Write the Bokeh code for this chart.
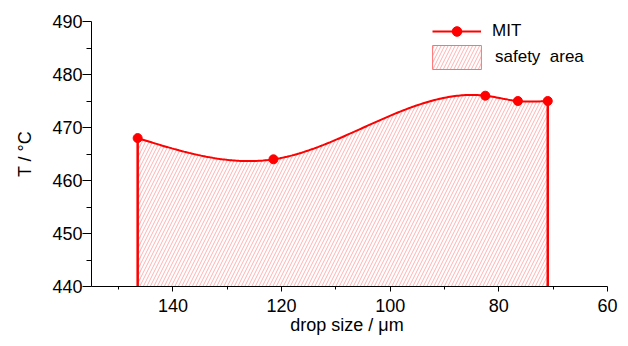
import numpy as np
from bokeh.plotting import figure
from bokeh.models import Range1d, FixedTicker, Legend, LegendItem
from bokeh.embed import file_html
from bokeh.resources import INLINE

# ---- data ----
drop_size = [146.5, 121.5, 82.5, 76.5, 71.0]      # µm
mit = [468, 464, 476, 475, 475]                    # °C
x_ticks = [140, 120, 100, 80, 60]
x_minor = [150, 130, 110, 90, 70]
y_ticks = [440, 450, 460, 470, 480, 490]
y_minor = [445, 455, 465, 475, 485]
x_lim = (155, 60)
y_lim = (440, 490)
series_label = "MIT"
area_label = "safety  area"
x_title = "drop  size / μm"
y_title = "T / °C"

RED = "#ff0000"
FONT = "Liberation Sans"


def natural_spline(xs, ys, n=240):
    """Smooth curve through the measured points (drawing aid, like Origin's spline line)."""
    order = np.argsort(xs)
    x = np.asarray(xs, float)[order]
    y = np.asarray(ys, float)[order]
    m = len(x)
    h = np.diff(x)
    A = np.zeros((m, m))
    b = np.zeros(m)
    A[0, 0] = A[-1, -1] = 1.0
    for i in range(1, m - 1):
        A[i, i - 1] = h[i - 1]
        A[i, i] = 2 * (h[i - 1] + h[i])
        A[i, i + 1] = h[i]
        b[i] = 3 * ((y[i + 1] - y[i]) / h[i] - (y[i] - y[i - 1]) / h[i - 1])
    c = np.linalg.solve(A, b)
    bb = (y[1:] - y[:-1]) / h - h * (2 * c[:-1] + c[1:]) / 3
    d = (c[1:] - c[:-1]) / (3 * h)
    xx = np.linspace(x[0], x[-1], n)
    idx = np.clip(np.searchsorted(x, xx, side="right") - 1, 0, m - 2)
    t = xx - x[idx]
    yy = y[idx] + bb[idx] * t + c[idx] * t ** 2 + d[idx] * t ** 3
    return xx, yy


cx, cy = natural_spline(drop_size, mit)

p = figure(width=620, height=338, output_backend="svg", toolbar_location=None,
           x_range=Range1d(*x_lim), y_range=Range1d(*y_lim),
           min_border_left=91, min_border_right=13, min_border_top=21,
           min_border_bottom=52)
p.outline_line_color = None
p.xgrid.visible = False
p.ygrid.visible = False
p.background_fill_color = "white"
p.border_fill_color = "white"

# hatched safety area under the curve
area_x = np.concatenate([[cx[0]], cx, [cx[-1]]])
area_y = np.concatenate([[y_lim[0]], cy, [y_lim[0]]])
area = p.patch(area_x, area_y, fill_alpha=0, line_color="#ff7070", line_width=1,
               hatch_pattern="/", hatch_color=RED, hatch_alpha=0.3,
               hatch_weight=1, hatch_scale=7)

# vertical borders of the area
p.segment(x0=[drop_size[0], drop_size[-1]], y0=[mit[0], mit[-1]],
          x1=[drop_size[0], drop_size[-1]], y1=[y_lim[0], y_lim[0]],
          line_color=RED, line_width=2.5)

line_r = p.line(cx, cy, line_color=RED, line_width=2)
scat_r = p.scatter(drop_size, mit, marker="circle", size=9,
                   fill_color=RED, line_color=RED)

# axes
for ax in (p.xaxis[0], p.yaxis[0]):
    ax.axis_line_color = "black"
    ax.major_tick_line_color = "black"
    ax.minor_tick_line_color = "black"
    ax.major_tick_in = 0
    ax.minor_tick_in = 0
    ax.major_label_text_font = FONT
    ax.major_label_text_font_size = "18px"
    ax.major_label_text_color = "black"
    ax.axis_label_text_font = FONT
    ax.axis_label_text_font_size = "18px"
    ax.axis_label_text_font_style = "normal"
    ax.axis_label_text_color = "black"

p.xaxis.ticker = FixedTicker(ticks=x_ticks, minor_ticks=x_minor)
p.yaxis.ticker = FixedTicker(ticks=y_ticks, minor_ticks=y_minor)
p.xaxis.major_tick_out = 5
p.xaxis.minor_tick_out = 3
p.xaxis.major_label_standoff = 7
p.xaxis.axis_label = x_title
p.xaxis.axis_label_standoff = 0
p.yaxis.major_tick_out = 9
p.yaxis.minor_tick_out = 5
p.yaxis.major_label_standoff = 0
p.yaxis.axis_label = y_title
p.yaxis.axis_label_standoff = 14

# legends
common = dict(padding=0, margin=0, border_line_color=None,
              background_fill_alpha=0, label_text_font=FONT,
              label_text_font_size="17px", label_text_color="black")
leg1 = Legend(items=[LegendItem(label=series_label, renderers=[line_r, scat_r])],
              location=(341.0, 243.0), glyph_width=49, glyph_height=24,
              label_height=24, label_standoff=11, **common)
leg2 = Legend(items=[LegendItem(label=area_label, renderers=[area])],
              location=(335.0, 214.5), glyph_width=61, glyph_height=30,
              label_height=30, label_standoff=8, **common)
p.add_layout(leg1)
p.add_layout(leg2)

open("out.html", "w").write(file_html(p, INLINE))
